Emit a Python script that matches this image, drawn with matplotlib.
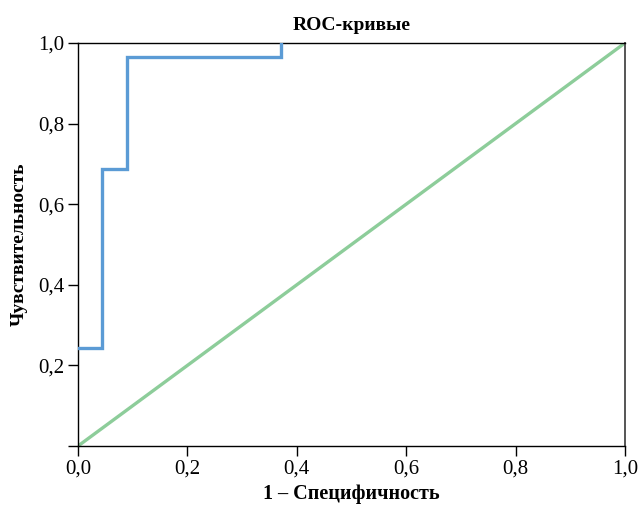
import matplotlib.pyplot as plt

# ROC curve points (1 - specificity, sensitivity)
fpr = [0.0, 0.044, 0.044, 0.0895, 0.0895, 0.371, 0.371]
tpr = [0.242, 0.242, 0.688, 0.688, 0.965, 0.965, 1.0]
diag = [0.0, 1.0]

xticks = [0.0, 0.2, 0.4, 0.6, 0.8, 1.0]
xtick_labels = ['0,0', '0,2', '0,4', '0,6', '0,8', '1,0']
yticks = [0.0, 0.2, 0.4, 0.6, 0.8, 1.0]
ytick_labels = ['', '0,2', '0,4', '0,6', '0,8', '1,0']

plt.rcParams['font.family'] = ['Liberation Serif', 'DejaVu Serif']

fig = plt.figure(figsize=(6.38, 5.05), dpi=100)
ax = fig.add_axes([0.1223, 0.1168, 0.8573, 0.7981])

ax.plot(diag, diag, color='#8dcd9a', linewidth=2.4, solid_capstyle='butt', zorder=2)
ax.plot(fpr, tpr, color='#5b9bd5', linewidth=2.4, solid_joinstyle='miter', zorder=3)

ax.set_xlim(0, 1)
ax.set_ylim(0, 1)
ax.set_xticks(xticks)
ax.set_xticklabels(xtick_labels)
ax.set_yticks(yticks)
ax.set_yticklabels(ytick_labels)
ax.tick_params(direction='out', length=7, width=1, labelsize=15, pad=3)

for side in ['left', 'bottom', 'top']:
    ax.spines[side].set_color('black')
    ax.spines[side].set_linewidth(1)
ax.spines['right'].set_color('#555555')
ax.spines['right'].set_linewidth(1.4)

ax.set_xlabel('1 – Специфичность', fontsize=14.5, fontweight='bold', labelpad=4)
ax.set_ylabel('Чувствительность', fontsize=14, fontweight='bold', labelpad=7)
ax.set_title('ROC-кривые', fontsize=14, fontweight='bold', pad=9)

fig.savefig('out.png', dpi=100)
